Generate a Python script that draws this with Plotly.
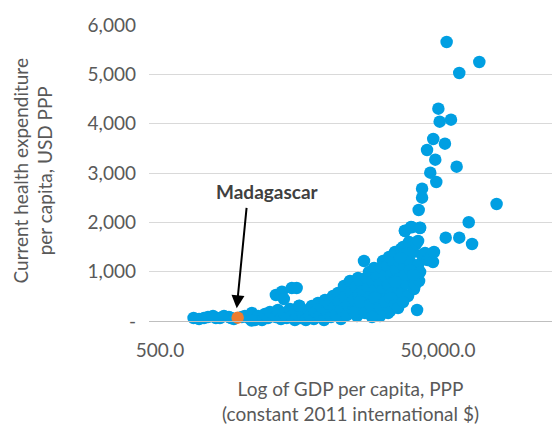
import math
import plotly.graph_objects as go

# GDP per capita, PPP (constant 2011 international $)
gdp = [
    872, 955, 1037, 1108, 1203, 1262, 1350, 1443, 1567, 1620, 1700, 1940, 2042, 2180, 2290,
    2410, 2540, 2710, 2845, 2990, 3090, 2280, 3410, 3530, 3710, 3890, 4080, 4300, 4440, 4670,
    4810, 5020, 5080, 5340, 5600, 5810, 6000, 6190, 6400, 6610, 6850, 7080, 7310, 7570, 7690,
    7940, 8200, 8500, 8790, 8930, 9230, 9540, 9700, 10020, 10180, 10540, 10710, 11070, 11260,
    11640, 11830, 12240, 12440, 12850, 13070, 13290, 13510, 13960, 14190, 14430, 14680, 14920,
    15180, 15690, 15690, 15950, 16490, 16770, 17050, 17330, 17610, 17910, 18210, 18520, 19140,
    19460, 19790, 20120, 20120, 20790, 21150, 21510, 21880, 22230, 22590, 22970, 23380, 23770,
    24150, 24540, 24950, 25380, 25810, 26230, 26660, 27110, 27570, 28030, 28500, 28960, 29450,
    29940, 30440, 30950, 31470, 32000, 32530, 33070, 33620, 34190, 34760, 35340, 35930, 35930,
    36530, 37140, 37140, 38320, 40340, 41930, 43800, 46000, 46770,
    12640, 13740, 14920, 16220, 17610, 19140, 20790, 22590, 24540, 21880, 19140, 16770, 25810,
    28030, 24540, 28960, 26660, 31470, 33070,
    3410, 3770, 4440, 4810, 3890, 5020,
    57700, 99100, 71100, 50300, 51400, 62000, 46200, 56100, 41700, 47800, 68100, 44000, 48600,
    38400, 38400, 36300, 132000, 83200, 56800, 71100, 87900, 28900, 32400, 37100,
]

# Current health expenditure per capita, USD PPP
health = [
    61, 41, 61, 81, 101, 61, 61, 101, 81, 61, 41, 81, 101, 61, 162,
    20, 101, 20, 142, 61, 182, 10, 81, 223, 41, 162, 61, 243, 101, 20,
    182, 304, 61, 142, 20, 223, 101, 304, 41, 182, 365, 101, 264, 20, 426,
    182, 345, 81, 507, 264, 122, 568, 385, 41, 223, 710, 487, 122, 324,
    811, 588, 203, 426, 690, 101, 872, 527, 304, 750, 608, 1216, 426,
    872, 223, 669, 993, 507, 811, 365, 1074, 628, 182, 892, 507, 750,
    1074, 324, 1216, 628, 912, 466, 1115, 730, 1297, 203, 932, 568, 1196,
    811, 1399, 1034, 405, 669, 1196, 872, 1459, 568, 1500, 1074, 1824, 750,
    1378, 507, 1601, 1196, 1906, 872, 1399, 649, 730, 1561, 223, 1135, 1622,
    811, 1885, 993, 1338, 1378, 1236, 1277, 1196, 1399,
    182, 385, 162, 324, 466, 284, 385, 466, 324, 162, 101, 81, 264,
    385, 791, 932, 1277, 1034, 932,
    527, 594, 669, 669, 446, 310,
    5656, 5250, 5027, 4304, 4040, 4081, 3689, 3594, 3466, 3270, 3128, 3006, 2818,
    2682, 2500, 2250, 2372, 2001, 1689, 1689, 1561, 1830, 1900, 1890,
]

highlight_name = "Madagascar"
highlight_gdp = [1810]
highlight_health = [67]

x_ticks = [500, 50000]
x_tick_labels = ["500.0", "50,000.0"]
y_ticks = [0, 1000, 2000, 3000, 4000, 5000, 6000]
y_tick_labels = ["-", "1,000", "2,000", "3,000", "4,000", "5,000", "6,000"]

BLUE = "#009FE2"
ORANGE = "#ED7D31"
GREY = "#595959"
FONT = "Lato"

fig = go.Figure()
fig.add_trace(go.Scatter(
    x=gdp, y=health, mode="markers",
    marker=dict(color=BLUE, size=12.5, line=dict(width=0)),
    cliponaxis=False, showlegend=False, hoverinfo="skip",
))
fig.add_trace(go.Scatter(
    x=highlight_gdp, y=highlight_health, mode="markers",
    marker=dict(color=ORANGE, size=12.5, line=dict(width=0)),
    cliponaxis=False, showlegend=False, name=highlight_name,
))

# the page body has an 8px margin, so the figure is laid out 8px in from the corner
OFF = 8
W, H = 560 - OFF, 428 - OFF
L, R, T = 149 - OFF, 0, 25 - OFF
B = H - (321 - OFF)
pw, ph = W - L - R, H - T - B

def px_to_paper_x(px):
    return (px - OFF - L) / pw

def px_to_paper_y(py):
    return (H - B - (py - OFF)) / ph

fig.update_layout(
    width=W, height=H,
    margin=dict(l=L, r=R, t=T, b=B, pad=0),
    paper_bgcolor="white", plot_bgcolor="white",
    font=dict(family=FONT, size=19, color=GREY),
    xaxis=dict(
        type="log", range=[2.61983, 5.57667],
        tickvals=x_ticks, ticktext=x_tick_labels,
        showgrid=False, zeroline=False,
        showline=True, linecolor="#BFBFBF", linewidth=1.3,
        ticks="", ticklabelstandoff=12,
        tickfont=dict(family=FONT, size=19, color=GREY),
    ),
    yaxis=dict(
        range=[0, 6000], tickvals=y_ticks, ticktext=y_tick_labels,
        showgrid=True, gridcolor="#D9D9D9", gridwidth=1.3,
        zeroline=False, showline=False, ticks="", ticklabelstandoff=12,
        tickfont=dict(family=FONT, size=19, color=GREY),
    ),
    annotations=[
        dict(text="Log of GDP per capita, PPP<br>(constant 2011 international $)",
             xref="paper", yref="paper", x=px_to_paper_x(350), y=px_to_paper_y(400.5),
             xanchor="center", yanchor="middle", showarrow=False,
             font=dict(family=FONT, size=19, color=GREY)),
        dict(text="Current health expenditure<br>per capita, USD PPP",
             xref="paper", yref="paper", x=px_to_paper_x(32.5), y=px_to_paper_y(171),
             xanchor="center", yanchor="middle", showarrow=False, textangle=-90,
             font=dict(family=FONT, size=19, color=GREY)),
        dict(text="<b>Madagascar</b>", xref="x", yref="y",
             x=math.log10(2943), y=2635, showarrow=False,
             xanchor="center", yanchor="middle",
             font=dict(family=FONT, size=19, color="#404040")),
        dict(text="", xref="x", yref="y",
             x=math.log10(1782), y=257, ax=10, ay=-102,
             showarrow=True, arrowhead=2, arrowsize=1.3, arrowwidth=2,
             arrowcolor="black"),
    ],
)

fig.write_html("out.html")
